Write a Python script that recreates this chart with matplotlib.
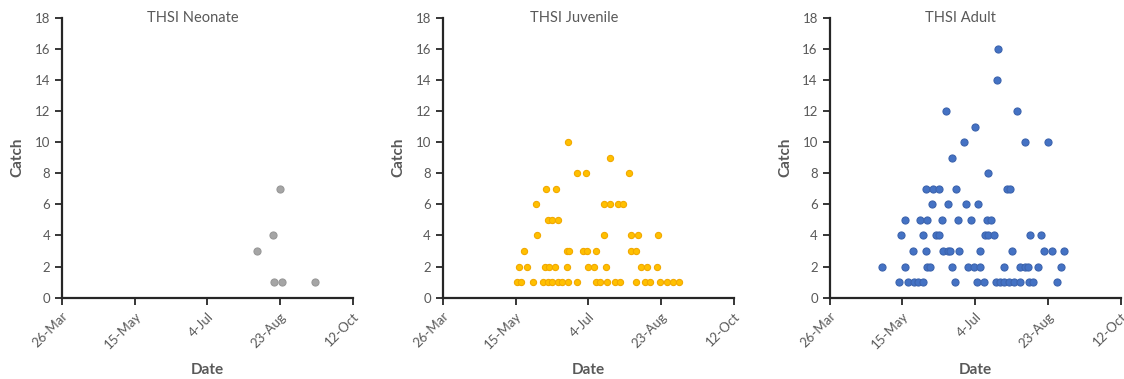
import datetime as dt
import matplotlib
matplotlib.use('Agg')
import matplotlib.pyplot as plt
import matplotlib.dates as mdates

plt.rcParams['font.family'] = ['Lato', 'DejaVu Sans']

YEAR = 2015

# axis ticks shared by all three panels
tick_labels = ['26-Mar', '15-May', '4-Jul', '23-Aug', '12-Oct']
catch_ticks = [0, 2, 4, 6, 8, 10, 12, 14, 16, 18]

# neonates
neo_dates = ['7-Aug', '18-Aug', '23-Aug', '19-Aug', '24-Aug', '16-Sep']
neo_catch = [3, 4, 7, 1, 1, 1]

# juveniles
juv_dates = ['16-May', '19-May', '27-May', '3-Jun', '6-Jun', '9-Jun', '13-Jun', '16-Jun',
             '20-Jun', '26-Jun', '9-Jul', '12-Jul', '17-Jul', '22-Jul', '26-Jul', '6-Aug',
             '12-Aug', '15-Aug', '22-Aug', '27-Aug', '31-Aug', '4-Sep',
             '17-May', '23-May', '4-Jun', '7-Jun', '11-Jun', '19-Jun', '4-Jul', '8-Jul',
             '16-Jul', '9-Aug', '13-Aug', '20-Aug',
             '21-May', '19-Jun', '21-Jun', '30-Jun', '3-Jul', '9-Jul', '2-Aug', '6-Aug',
             '30-May', '15-Jul', '2-Aug', '7-Aug', '21-Aug',
             '6-Jun', '9-Jun', '13-Jun',
             '29-May', '15-Jul', '19-Jul', '24-Jul', '28-Jul',
             '5-Jun', '12-Jun',
             '26-Jun', '2-Jul', '1-Aug',
             '19-Jul',
             '20-Jun']
juv_catch = [1] * 22 + [2] * 12 + [3] * 8 + [4] * 5 + [5] * 3 + [6] * 5 + [7] * 2 + [8] * 3 + [9] + [10]

# adults
adu_dates = ['13-May', '19-May', '23-May', '26-May', '29-May', '20-Jun', '5-Jul', '10-Jul',
             '18-Jul', '21-Jul', '24-Jul', '27-Jul', '31-Jul', '4-Aug', '10-Aug', '13-Aug',
             '29-Aug',
             '1-May', '17-May', '1-Jun', '3-Jun', '18-Jun', '29-Jun', '3-Jul', '7-Jul',
             '24-Jul', '4-Aug', '7-Aug', '9-Aug', '16-Aug', '1-Sep',
             '22-May', '31-May', '12-Jun', '15-Jun', '17-Jun', '23-Jun', '7-Jul', '29-Jul',
             '20-Aug', '26-Aug', '3-Sep',
             '14-May', '29-May', '7-Jun', '9-Jun', '11-Jul', '13-Jul', '17-Jul', '11-Aug',
             '18-Aug',
             '17-May', '27-May', '1-Jun', '11-Jun', '22-Jun', '1-Jul', '12-Jul', '15-Jul',
             '4-Jun', '15-Jun', '28-Jun', '6-Jul',
             '31-May', '5-Jun', '9-Jun', '21-Jun', '26-Jul', '28-Jul',
             '13-Jul',
             '18-Jun',
             '26-Jun', '7-Aug', '23-Aug',
             '4-Jul',
             '14-Jun', '2-Aug',
             '19-Jul',
             '20-Jul']
adu_catch = ([1] * 17 + [2] * 14 + [3] * 11 + [4] * 9 + [5] * 8 + [6] * 4 + [7] * 6
             + [8] + [9] + [10] * 3 + [11] + [12] * 2 + [14] + [16])


def to_date(s):
    return dt.datetime.strptime(f'{s}-{YEAR}', '%d-%b-%Y')


panels = [
    ('THSI Neonate', neo_dates, neo_catch, '#A5A5A5', '#989898', 26, 0.0551),
    ('THSI Juvenile', juv_dates, juv_catch, '#FFC000', '#F2A900', 20, 0.3940),
    ('THSI Adult', adu_dates, adu_catch, '#4472C4', '#3C64AE', 26, 0.7381),
]

txt = '#595959'
fig = plt.figure(figsize=(11.24, 3.79), dpi=100)

for title, dates, catch, face, edge, size, left in panels:
    ax = fig.add_axes([left, 0.2145, 0.2590, 0.7388])
    ax.scatter([to_date(d) for d in dates], catch, s=size, c=face,
               edgecolors=edge, linewidths=0.8, zorder=3, clip_on=False)

    # date axis
    ticks = [to_date(t) for t in tick_labels]
    ax.set_xlim(ticks[0], ticks[-1])
    ax.set_xticks(ticks)
    ax.set_xticklabels(tick_labels, rotation=45, ha='right', rotation_mode='anchor')
    ax.set_ylim(0, 18)
    ax.set_yticks(catch_ticks)

    for side in ['top', 'right']:
        ax.spines[side].set_visible(False)
    for side in ['left', 'bottom']:
        ax.spines[side].set_color('#262626')
        ax.spines[side].set_linewidth(1.6)
    ax.tick_params(axis='both', direction='out', length=5, width=1.3, color='#262626',
                   labelcolor=txt, labelsize=9.5)
    ax.tick_params(axis='x', pad=4)

    ax.set_xlabel('Date', fontsize=11, fontweight='bold', color=txt)
    ax.set_ylabel('Catch', fontsize=11, fontweight='bold', color=txt)
    ax.xaxis.set_label_coords(0.5, -0.258)
    ax.xaxis.label.set_va('center')
    ax.yaxis.set_label_coords(-0.153, 0.5)
    ax.yaxis.label.set_va('center')

    ax.text(0.45, 1.0, title, transform=ax.transAxes, ha='center', va='center',
            fontsize=10.5, color=txt)

fig.savefig('out.png', dpi=100)
